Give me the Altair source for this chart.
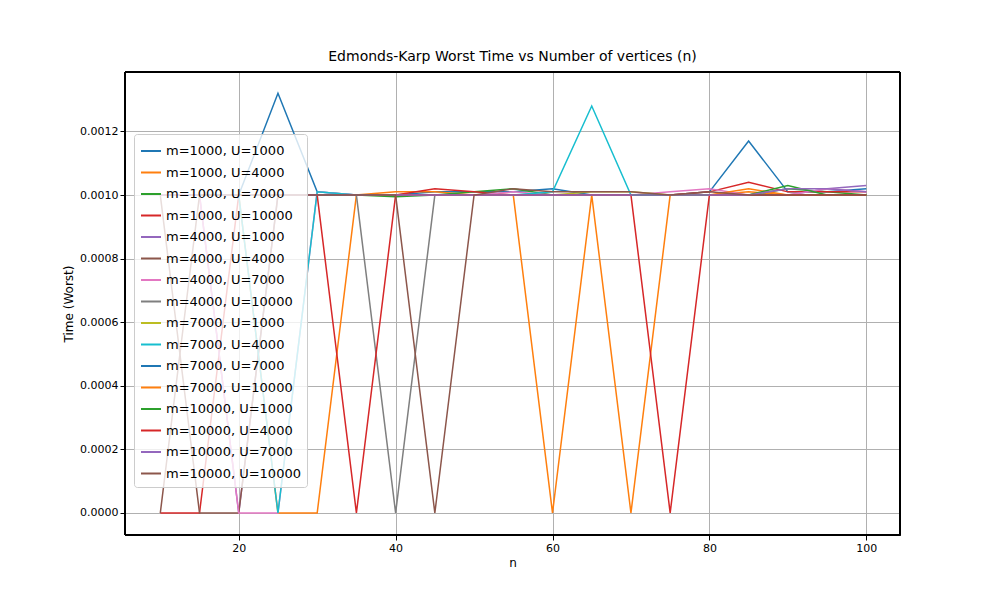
import altair as alt
import pandas as pd

n = [10,15,20,25,30,35,40,45,50,55,60,65,70,75,80,85,90,95,100]
labels = ["m=1000, U=1000","m=1000, U=4000","m=1000, U=7000","m=1000, U=10000",
          "m=4000, U=1000","m=4000, U=4000","m=4000, U=7000","m=4000, U=10000",
          "m=7000, U=1000","m=7000, U=4000","m=7000, U=7000","m=7000, U=10000",
          "m=10000, U=1000","m=10000, U=4000","m=10000, U=7000","m=10000, U=10000"]
colors = ["#1f77b4","#ff7f0e","#2ca02c","#d62728","#9467bd","#8c564b","#e377c2","#7f7f7f",
          "#bcbd22","#17becf","#1f77b4","#ff7f0e","#2ca02c","#d62728","#9467bd","#8c564b"]
B = 0.001
# values in units of 1e-3 s
vals = [
 [1.0,1.0,1.0,1.32,1.01,1.0,1.0,1.01,1.01,1.01,1.02,1.0,1.0,1.0,1.01,1.17,1.01,1.01,1.02],
 [1.0,1.0,1.0,0,0,1.0,1.01,1.01,1.0,1.0,1.0,1.0,1.0,1.0,1.0,1.01,1.0,1.0,1.0],
 [1.0,1.0,1.0,1.0,1.0,1.0,0.995,1.0,1.01,1.02,1.0,1.0,1.0,1.0,1.0,1.0,1.02,1.01,1.0],
 [0,0,1.0,1.0,1.0,1.0,1.0,1.02,1.01,1.0,1.0,1.0,1.0,1.0,1.01,1.04,1.01,1.01,1.01],
 [1.0,1.0,0,1.0,1.0,1.0,1.0,1.0,1.0,1.0,1.0,1.0,1.0,1.0,1.0,1.0,1.0,1.02,1.03],
 [1.0,0,0,1.0,1.0,1.0,1.0,1.0,1.0,1.0,1.0,1.0,1.0,1.0,1.0,1.0,1.0,1.0,1.0],
 [1.0,1.0,0,0,1.01,1.0,1.0,1.0,1.0,1.01,1.0,1.0,1.0,1.01,1.02,1.0,1.0,1.02,1.01],
 [1.0,1.0,1.0,1.0,1.0,1.0,0,1.0,1.0,1.0,1.0,1.0,1.0,1.0,1.0,1.0,1.0,1.0,1.0],
 [1.0,1.0,1.0,1.0,1.0,1.0,1.0,1.0,1.0,1.0,1.0,1.01,1.01,1.0,1.0,1.0,1.0,1.0,1.0],
 [1.0,1.0,1.0,0,1.01,1.0,1.0,1.0,1.0,1.0,1.01,1.28,1.0,1.0,1.0,1.0,1.0,1.0,1.0],
 [1.0,1.0,1.0,1.0,1.0,1.0,1.0,1.0,1.0,1.0,1.0,1.0,1.0,1.0,1.0,1.0,1.0,1.0,1.0],
 [1.0,1.0,1.0,1.0,1.0,1.0,1.0,1.0,1.0,1.0,0,1.0,0,1.0,1.0,1.02,1.0,1.0,1.0],
 [1.0,1.0,1.0,1.0,1.0,1.0,1.0,1.0,1.0,1.0,1.0,1.0,1.0,1.0,1.0,1.0,1.03,1.0,1.0],
 [1.0,1.0,1.0,1.0,1.0,0,1.0,1.0,1.0,1.0,1.0,1.0,1.0,0,1.0,1.0,1.0,1.0,1.0],
 [1.0,1.0,1.0,1.0,1.0,1.0,1.0,1.0,1.0,1.0,1.0,1.0,1.0,1.0,1.0,1.0,1.02,1.02,1.01],
 [0,1.0,1.0,1.0,1.0,1.0,1.0,0,1.0,1.02,1.01,1.01,1.01,1.0,1.01,1.0,1.0,1.0,1.0],
]
rows = []
for i, (lab, v) in enumerate(zip(labels, vals)):
    for x, y in zip(n, v):
        rows.append({"n": x, "t": y * B, "series": lab, "order": i})
df = pd.DataFrame(rows)

lines = alt.Chart(df).mark_line(strokeWidth=1.5, clip=True).encode(
    x=alt.X("n:Q", title="n", scale=alt.Scale(domain=[5.5, 104.3], nice=False, zero=False),
            axis=alt.Axis(values=[20,40,60,80,100], grid=True)),
    y=alt.Y("t:Q", title="Time (Worst)", scale=alt.Scale(domain=[-0.0000692, 0.001387], nice=False),
            axis=alt.Axis(values=[0,0.0002,0.0004,0.0006,0.0008,0.001,0.0012], format=".4f", grid=True)),
    color=alt.Color("series:N", sort=labels,
                    scale=alt.Scale(domain=labels, range=colors),
                    legend=alt.Legend(title=None, orient="none", legendX=9, legendY=62,
                                      symbolType="stroke", symbolSize=400, symbolStrokeWidth=2,
                                      labelFontSize=13, rowPadding=3.5,
                                      fillColor="rgba(255,255,255,0.8)", strokeColor="#cccccc",
                                      padding=6, cornerRadius=3)),
    detail="order:O",
)
frame = alt.Chart(df).mark_rect(fill=None, stroke="black", strokeWidth=1).encode(
    x=alt.value(0), x2=alt.value(775), y=alt.value(0), y2=alt.value(463))

chart = alt.layer(lines, frame).properties(
    width=775, height=463,
    title=alt.Title("Edmonds-Karp Worst Time vs Number of vertices (n)", fontSize=14, fontWeight="normal"),
    autosize=alt.AutoSizeParams(type="none"),
    padding={"left": 117, "top": 64, "right": 84, "bottom": 50},
).configure_axis(
    gridColor="#b0b0b0", domainColor="black", tickColor="black", labelFontSize=11,
    titleFontSize=12, titleFontWeight="normal", labelFont="DejaVu Sans", titleFont="DejaVu Sans",
).configure_view(stroke="black").configure_title(font="DejaVu Sans", offset=8).configure_legend(
    labelFont="DejaVu Sans")

chart.save("out.html", embed_options={"renderer": "svg", "actions": False})
